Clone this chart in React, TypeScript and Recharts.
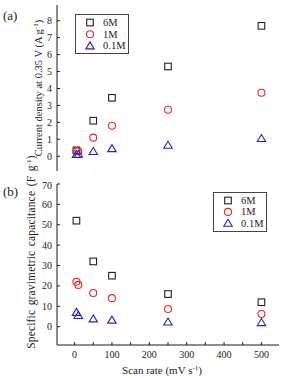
import React from "react";
import { ScatterChart, Scatter, XAxis, YAxis, Legend } from "recharts";

// Scan rates (mV s-1) and measured values per electrolyte concentration
const current6M = [
  { x: 5, y: 0.35 },
  { x: 50, y: 2.1 },
  { x: 100, y: 3.45 },
  { x: 250, y: 5.3 },
  { x: 500, y: 7.7 },
];
const current1M = [
  { x: 5, y: 0.3 },
  { x: 10, y: 0.3 },
  { x: 50, y: 1.1 },
  { x: 100, y: 1.8 },
  { x: 250, y: 2.75 },
  { x: 500, y: 3.75 },
];
const current01M = [
  { x: 5, y: 0.1 },
  { x: 10, y: 0.12 },
  { x: 50, y: 0.28 },
  { x: 100, y: 0.45 },
  { x: 250, y: 0.65 },
  { x: 500, y: 1.05 },
];

const cap6M = [
  { x: 5, y: 52 },
  { x: 50, y: 32 },
  { x: 100, y: 25 },
  { x: 250, y: 16 },
  { x: 500, y: 12 },
];
const cap1M = [
  { x: 5, y: 22 },
  { x: 10, y: 20.5 },
  { x: 50, y: 16.5 },
  { x: 100, y: 14 },
  { x: 250, y: 8.7 },
  { x: 500, y: 6.2 },
];
const cap01M = [
  { x: 5, y: 7 },
  { x: 10, y: 5.5 },
  { x: 50, y: 3.8 },
  { x: 100, y: 3.2 },
  { x: 250, y: 2.3 },
  { x: 500, y: 2 },
];

const seriesNames = ["6M", "1M", "0.1M"];
const xTicks = [0, 50, 100, 150, 200, 250, 300, 350, 400, 450, 500];
const currentTicks = [0, 1, 2, 3, 4, 5, 6, 7, 8];
const capTicks = [0, 10, 20, 30, 40, 50, 60, 70];

const FONT = "'Liberation Serif', 'DejaVu Serif', serif";
const AXIS = "#1a1a1a";
const C_SQ = "#222";
const C_CI = "#e02828";
const C_TR = "#2222d0";

const Square = (p: any) => (
  <rect x={p.cx - 3.3} y={p.cy - 3.3} width={6.6} height={6.6} fill="none" stroke={C_SQ} strokeWidth={1.1} />
);
const Circle = (p: any) => (
  <circle cx={p.cx} cy={p.cy} r={3.5} fill="none" stroke={C_CI} strokeWidth={1.1} />
);
const Triangle = (p: any) => (
  <polygon
    points={`${p.cx},${p.cy - 4} ${p.cx - 4.2},${p.cy + 3} ${p.cx + 4.2},${p.cy + 3}`}
    fill="none"
    stroke={C_TR}
    strokeWidth={1.1}
  />
);

const symbolFor = (i: number, cx: number, cy: number) =>
  i === 0 ? <Square cx={cx} cy={cy} /> : i === 1 ? <Circle cx={cx} cy={cy} /> : <Triangle cx={cx} cy={cy} />;

const LegendBox = ({ w, h, gap }: { w: number; h: number; gap: number }) => (
  <svg width={w} height={h} style={{ display: "block" }}>
    <rect x={0.5} y={0.5} width={w - 1} height={h - 1} fill="#fff" stroke="#444" strokeWidth={1} />
    {seriesNames.map((n, i) => (
      <g key={n}>
        {symbolFor(i, 15, 8.5 + i * gap)}
        <text x={28} y={12 + i * gap} fontFamily={FONT} fontSize={10.5} fill="#222">
          {n}
        </text>
      </g>
    ))}
  </svg>
);

const hiddenTick = () => <g />;
const xLabel = (v: number) => (v % 100 === 0 ? String(v) : "");

const tickStyle = { fontFamily: FONT, fontSize: 10, fill: "#222" };
const chartStyle = { fontFamily: FONT };

export default function App() {
  return (
    <div style={{ position: "absolute", left: 0, top: 0, width: 285, height: 378, background: "#fff", fontFamily: FONT }}>
      <div style={{ position: "absolute", left: 0, top: 0 }}>
        <ScatterChart width={285} height={180} margin={{ top: 5, right: 6, bottom: 9, left: 0 }} style={chartStyle}>
          <XAxis
            xAxisId="b"
            type="number"
            dataKey="x"
            domain={[-47, 547]}
            ticks={xTicks}
            allowDataOverflow
            height={0}
            tick={hiddenTick}
            tickSize={-3}
            stroke={AXIS}
          />
          <XAxis
            xAxisId="t"
            orientation="top"
            type="number"
            dataKey="x"
            domain={[-47, 547]}
            ticks={xTicks}
            allowDataOverflow
            height={0}
            tick={hiddenTick}
            tickSize={-3}
            stroke={AXIS}
          />
          <YAxis
            yAxisId="l"
            type="number"
            dataKey="y"
            domain={[-0.87, 8.93]}
            ticks={currentTicks}
            allowDataOverflow
            width={57}
            tickSize={-3}
            tickMargin={8}
            tick={tickStyle}
            stroke={AXIS}
          />
          <YAxis
            yAxisId="r"
            orientation="right"
            type="number"
            dataKey="y"
            domain={[-0.87, 8.93]}
            ticks={currentTicks}
            allowDataOverflow
            width={0}
            tick={hiddenTick}
            tickSize={-3}
            stroke={AXIS}
          />
          <Legend
            layout="vertical"
            align="center"
            verticalAlign="middle"
            content={() => <LegendBox w={54} h={40} gap={11.7} />}
            wrapperStyle={{ position: "absolute", left: 75, top: 14, width: 54, height: 40 }}
          />
          <Scatter name="6M" data={current6M} xAxisId="b" yAxisId="l" shape={Square} isAnimationActive={false} />
          <Scatter name="1M" data={current1M} xAxisId="b" yAxisId="l" shape={Circle} isAnimationActive={false} />
          <Scatter name="0.1M" data={current01M} xAxisId="b" yAxisId="l" shape={Triangle} isAnimationActive={false} />
        </ScatterChart>
      </div>
      <div style={{ position: "absolute", left: 0, top: 180 }}>
        <ScatterChart width={285} height={198} margin={{ top: 4, right: 6, bottom: 0, left: 0 }} style={chartStyle}>
          <XAxis
            xAxisId="b"
            type="number"
            dataKey="x"
            domain={[-47, 547]}
            ticks={xTicks}
            allowDataOverflow
            height={33}
            tickSize={-3}
            tickMargin={9}
            tick={tickStyle}
            tickFormatter={xLabel}
            stroke={AXIS}
          />
          <XAxis
            xAxisId="t"
            orientation="top"
            type="number"
            dataKey="x"
            domain={[-47, 547]}
            ticks={xTicks}
            allowDataOverflow
            height={0}
            tick={hiddenTick}
            tickSize={-3}
            stroke={AXIS}
          />
          <YAxis
            yAxisId="l"
            type="number"
            dataKey="y"
            domain={[-9, 70]}
            ticks={capTicks}
            allowDataOverflow
            width={57}
            tickSize={-3}
            tickMargin={8}
            tick={tickStyle}
            stroke={AXIS}
          />
          <YAxis
            yAxisId="r"
            orientation="right"
            type="number"
            dataKey="y"
            domain={[-9, 70]}
            ticks={capTicks}
            allowDataOverflow
            width={0}
            tick={hiddenTick}
            tickSize={-3}
            stroke={AXIS}
          />
          <Legend
            layout="vertical"
            align="center"
            verticalAlign="middle"
            content={() => <LegendBox w={54} h={40} gap={11.4} />}
            wrapperStyle={{ position: "absolute", left: 213, top: 12, width: 54, height: 40 }}
          />
          <Scatter name="6M" data={cap6M} xAxisId="b" yAxisId="l" shape={Square} isAnimationActive={false} />
          <Scatter name="1M" data={cap1M} xAxisId="b" yAxisId="l" shape={Circle} isAnimationActive={false} />
          <Scatter name="0.1M" data={cap01M} xAxisId="b" yAxisId="l" shape={Triangle} isAnimationActive={false} />
        </ScatterChart>
      </div>
      <svg
        width={285}
        height={378}
        style={{ position: "absolute", left: 0, top: 0, pointerEvents: "none" }}
        fontFamily={FONT}
        fill="#222"
      >
        <text x={3} y={20} fontSize={13}>(a)</text>
        <text x={3} y={196} fontSize={13}>(b)</text>
        <text x={42} y={88} fontSize={10.5} textAnchor="middle" transform="rotate(-90, 42, 88)">
          Current density at 0.35 V (A g
          <tspan dy={-4} fontSize={7}>-1</tspan>
          <tspan dy={4}>)</tspan>
        </text>
        <text
          x={35}
          y={252}
          fontSize={11.5}
          letterSpacing={0.15}
          wordSpacing={1.5}
          textAnchor="middle"
          transform="rotate(-90, 35, 252)"
        >
          Specific gravimetric capacitance (F g
          <tspan dy={-4} fontSize={7}>-1</tspan>
          <tspan dy={4}>)</tspan>
        </text>
        <text x={162} y={374} fontSize={11} textAnchor="middle">
          Scan rate (mV s
          <tspan dy={-4} fontSize={7}>-1</tspan>
          <tspan dy={4}>)</tspan>
        </text>
      </svg>
    </div>
  );
}
